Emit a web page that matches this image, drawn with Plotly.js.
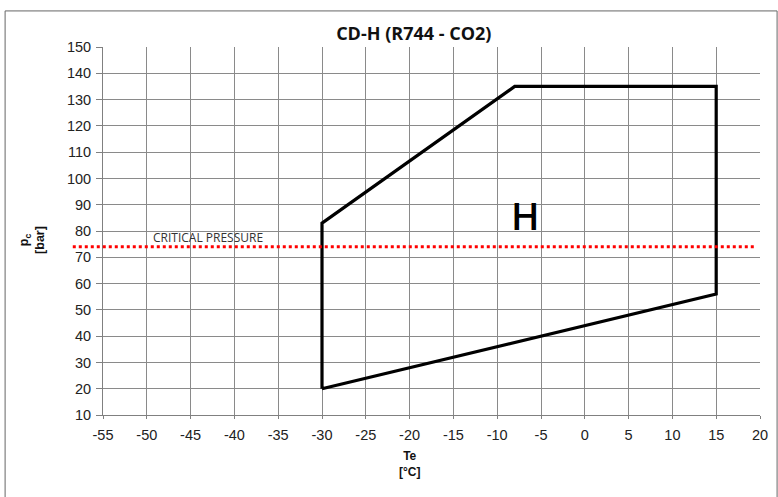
<!DOCTYPE html>
<html>
<head>
<meta charset="utf-8">
<script src="https://cdn.plot.ly/plotly-3.0.1.min.js"></script>
<style>html,body{margin:0;padding:0;background:#fff;}#chart{width:778px;height:497px;}</style>
</head>
<body>
<div id="chart"></div>
<script>
// Envelope data (Te [°C], pc [bar])
var envelopeTe = [-30, -30, -8, 15, 15, -30];
var envelopePc = [20, 83, 135, 135, 56, 20];
var criticalPressure = 74;
var criticalLabel = "CRITICAL PRESSURE";
var regionLabel = "H";
var regionLabelTe = -6.8;
var regionLabelPc = 86;
var xTicks = [-55, -50, -45, -40, -35, -30, -25, -20, -15, -10, -5, 0, 5, 10, 15, 20];
var yTicks = [10, 20, 30, 40, 50, 60, 70, 80, 90, 100, 110, 120, 130, 140, 150];

var traces = [{
  type: 'scatter',
  mode: 'lines',
  x: envelopeTe,
  y: envelopePc,
  line: {color: '#000', width: 3.2},
  hoverinfo: 'skip',
  showlegend: false
}];

var tickFont = {family: 'Liberation Sans, Arial, sans-serif', size: 14.5, color: '#222'};

var layout = {
  width: 778,
  height: 497,
  margin: {l: 103, r: 18, t: 47, b: 82},
  paper_bgcolor: '#fff',
  plot_bgcolor: '#fff',
  showlegend: false,
  title: {
    text: '<b>CD-H (R744 - CO2)</b>',
    font: {family: 'Open Sans, sans-serif', size: 18, color: '#111'},
    x: 0.473, xref: 'paper', xanchor: 'center',
    y: 0.933, yref: 'container', yanchor: 'middle'
  },
  xaxis: {
    range: [xTicks[0], xTicks[xTicks.length - 1]],
    tickmode: 'array', tickvals: xTicks, ticktext: xTicks.map(String),
    showgrid: true, gridcolor: '#8a8a8a', gridwidth: 1,
    showline: true, linecolor: '#808080', linewidth: 1,
    ticks: 'outside', ticklen: 3, tickcolor: '#808080',
    tickfont: tickFont, ticklabelstandoff: 4,
    zeroline: false, fixedrange: true
  },
  yaxis: {
    range: [yTicks[0], yTicks[yTicks.length - 1]],
    tickmode: 'array', tickvals: yTicks, ticktext: yTicks.map(String),
    showgrid: true, gridcolor: '#8a8a8a', gridwidth: 1,
    showline: true, linecolor: '#808080', linewidth: 1,
    ticks: 'outside', ticklen: 6, tickcolor: '#808080',
    tickfont: tickFont, ticklabelstandoff: 2,
    zeroline: false, fixedrange: true
  },
  shapes: [
    {
      type: 'rect', xref: 'paper', yref: 'paper',
      x0: -0.149, x1: 1.026, y0: -0.4, y1: 1.098,
      line: {color: '#666', width: 1}, fillcolor: 'rgba(0,0,0,0)', layer: 'below'
    },
    {
      type: 'line', xref: 'paper', yref: 'y',
      x0: -0.046, x1: 0.995, y0: criticalPressure, y1: criticalPressure,
      line: {color: '#ff0000', width: 2.8, dash: 'dot'}, layer: 'above'
    }
  ],
  annotations: [
    {
      text: criticalLabel, x: -49.5, y: criticalPressure, xref: 'x', yref: 'y',
      xanchor: 'left', yanchor: 'bottom', showarrow: false, yshift: -1,
      font: {family: 'Open Sans, sans-serif', size: 12, color: '#333'}
    },
    {
      text: regionLabel, x: regionLabelTe, y: regionLabelPc, xref: 'x', yref: 'y',
      xanchor: 'center', yanchor: 'middle', showarrow: false,
      font: {family: 'Open Sans, sans-serif', size: 38, color: '#000', weight: 600}
    },
    {
      text: '<b>Te</b><br><b>[°C]</b>', x: -20, xref: 'x', y: -0.087, yref: 'paper',
      xanchor: 'center', yanchor: 'top', showarrow: false,
      font: {family: 'Liberation Sans, Arial, sans-serif', size: 12, color: '#111'}
    },
    {
      text: '<b>p<sub>c</sub></b><br><b>[bar]</b>', x: -0.108, xref: 'paper', y: 0.476, yref: 'paper',
      xanchor: 'center', yanchor: 'middle', textangle: -90, showarrow: false,
      font: {family: 'Liberation Sans, Arial, sans-serif', size: 12.5, color: '#111'}
    }
  ]
};

Plotly.newPlot('chart', traces, layout, {displayModeBar: false, staticPlot: true});
</script>
</body>
</html>
